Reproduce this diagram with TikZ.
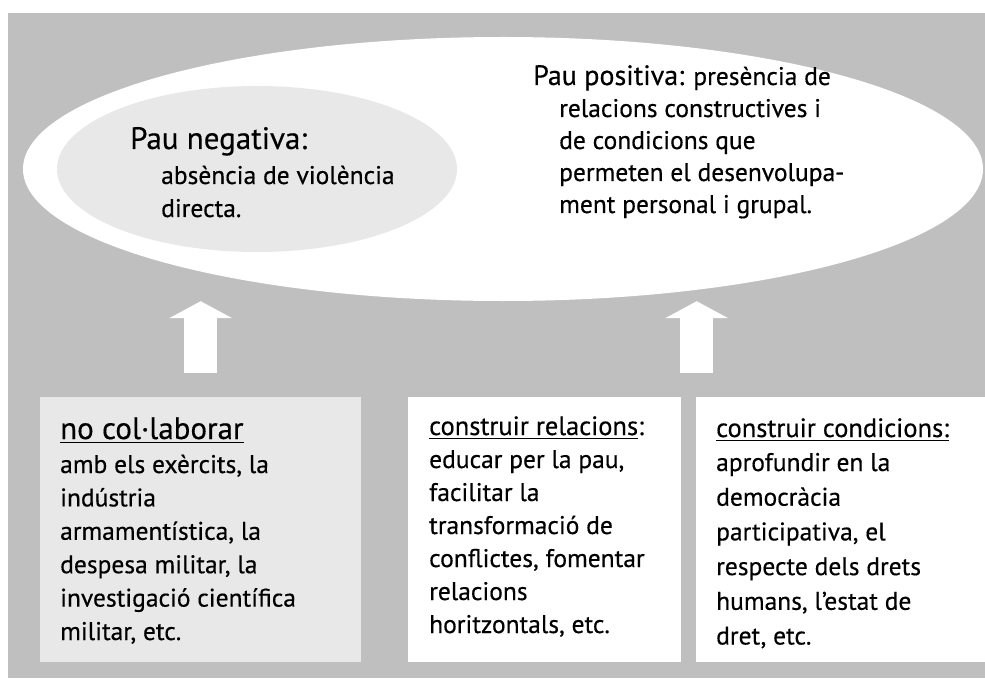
\documentclass[tikz,border=0pt]{standalone}
\usepackage{fontspec}
\setmainfont{PT Sans}[FakeBold=0.4]
\usetikzlibrary{arrows.meta,shapes.geometric,calc}

\definecolor{fons}{gray}{0.75}
\definecolor{clar}{gray}{0.91}

% subratllat amb filet propi
\newcommand{\subr}[1]{\setbox0\hbox{#1}\rlap{\vrule height -2.5pt depth 4pt width \wd0}\box0}

\begin{document}
\begin{tikzpicture}[x=1pt,y=-1pt,
  every node/.style={inner sep=0pt},
  caixa/.style={rectangle,anchor=north west,minimum height=265pt},
  linia/.style={anchor=base west,font=\fontsize{25.5}{30}\selectfont},
  titol/.style={anchor=base west,font=\fontsize{31}{34}\selectfont},
  fletxa/.style={white,line width=33pt,-{Triangle[length=17pt,width=63pt,line width=0pt]}}]
\fill[white] (0,0) rectangle (985,679);
\useasboundingbox (0,0) rectangle (985,679);
\fill[fons] (8,13) rectangle (985,678);
% el.lipses
\node[ellipse,fill=white,minimum width=960pt,minimum height=264pt] (gran) at (503,169) {};
\node[ellipse,fill=clar,minimum width=400pt,minimum height=166pt] (petita) at (257,169) {};
\node[titol] (neg) at (130,149) {Pau negativa:};
\node[linia] (neg1) at (161,184) {absència de violència};
\node[linia] (neg2) at (161,217) {directa.};
\node[linia] (pos) at (533,85) {{\fontsize{28}{30}\selectfont Pau positiva:} presència de};
\foreach \lin [count=\i] in {{relacions constructives i},{de condicions que},{permeten el desenvolupa-},{ment personal i grupal.}}
  \node[linia] (pos\i) at (559,{85+32*\i}) {\lin};
% caixes
\node[caixa,fill=clar,minimum width=321pt] (caixa1) at (40,397) {};
\node[caixa,fill=white,minimum width=273pt] (caixa2) at (408,397) {};
\node[caixa,fill=white,minimum width=289pt] (caixa3) at (696,397) {};
\coordinate (mig) at ($(caixa2.north west)!0.5!(caixa3.north east)$);
% fletxes
\draw[fletxa] ([yshift=24pt]caixa1.north) -- (caixa1.north |- gran.south);
\draw[fletxa] ([yshift=24pt]mig) -- (mig |- gran.south);
% textos de les caixes
\node[titol] (col) at (60,439) {\subr{no col·laborar}};
\foreach \lin [count=\i from 0] in {{amb els exèrcits, la},{indústria},{armamentística, la},{despesa militar, la},{investigació científica},{militar, etc.}}
  \node[linia] (col\i) at (60,{473+33.4*\i}) {\lin};
\node[linia,font=\fontsize{26.5}{30}\selectfont] (rel) at (429,435) {\subr{construir relacions}:};
\foreach \lin [count=\i from 0] in {{educar per la pau,},{facilitar la},{transformació de},{conflictes, fomentar},{relacions},{horitzontals, etc.}}
  \node[linia] (rel\i) at (429,{468+33*\i}) {\lin};
\node[linia,font=\fontsize{26.5}{30}\selectfont] (cond) at (716,437) {\subr{construir condicions:}};
\foreach \lin [count=\i from 0] in {{aprofundir en la},{democràcia},{participativa, el},{respecte dels drets},{humans, l’estat de},{dret, etc.}}
  \node[linia] (cond\i) at (716,{471+34.7*\i}) {\lin};
\end{tikzpicture}
\end{document}
